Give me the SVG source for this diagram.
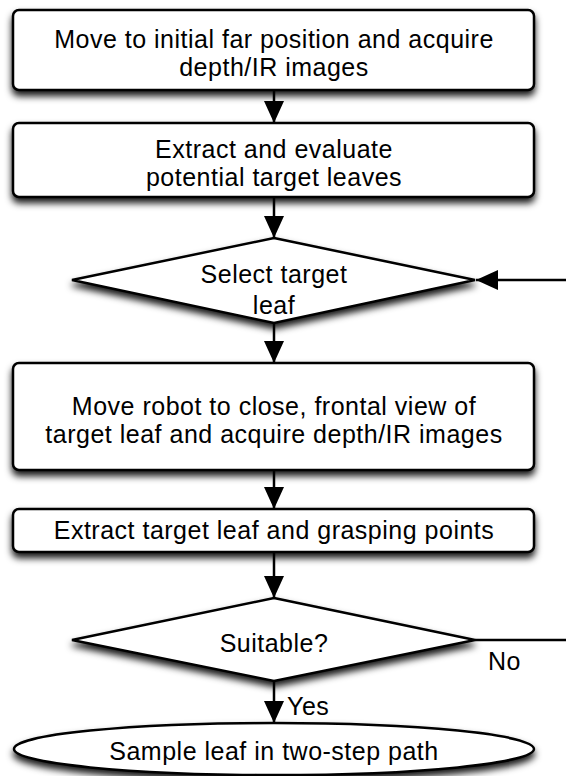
<svg xmlns="http://www.w3.org/2000/svg" width="566" height="776" viewBox="0 0 566 776">
<defs>
<filter id="sh" x="-10%" y="-20%" width="120%" height="160%">
<feDropShadow dx="0" dy="5" stdDeviation="3.5" flood-color="#000" flood-opacity="0.9"/>
</filter>
<marker id="ah" markerWidth="22" markerHeight="22" refX="22" refY="10" viewBox="0 0 22 20" orient="auto" markerUnits="userSpaceOnUse">
<path d="M0,0 L22,10 L0,20 Z" fill="#000"/>
</marker>
</defs>
<style>
.n{fill:#fff;stroke:#000;stroke-width:2.5;filter:url(#sh)}
.t{font-family:"Liberation Sans",Arial,sans-serif;font-size:25px;letter-spacing:0.5px;fill:#000;text-anchor:middle}
.l{font-family:"Liberation Sans",Arial,sans-serif;font-size:25px;letter-spacing:0.5px;fill:#000}
.c{stroke:#000;stroke-width:2.5;fill:none}
</style>
<rect width="566" height="776" fill="#fff"/>
<g id="connectors">
<line class="c" x1="274" y1="90" x2="274" y2="123" marker-end="url(#ah)"/>
<line class="c" x1="274" y1="197" x2="274" y2="238" marker-end="url(#ah)"/>
<line class="c" x1="566" y1="280" x2="476" y2="280" marker-end="url(#ah)"/>
<line class="c" x1="274" y1="323" x2="274" y2="363" marker-end="url(#ah)"/>
<line class="c" x1="274" y1="470" x2="274" y2="509" marker-end="url(#ah)"/>
<line class="c" x1="274" y1="552" x2="274" y2="598" marker-end="url(#ah)"/>
<line class="c" x1="475" y1="640" x2="566" y2="640"/>
<line class="c" x1="274" y1="681" x2="274" y2="723" marker-end="url(#ah)"/>
<text class="l" x="488" y="670">No</text>
<text class="l" x="287" y="715">Yes</text>
</g>
<g id="n1">
<rect class="n" x="13" y="10" width="521" height="80" rx="6"/>
<text class="t" x="274" y="48">Move to initial far position and acquire</text>
<text class="t" x="274" y="76">depth/IR images</text>
</g>
<g id="n2">
<rect class="n" x="13" y="123" width="521" height="74" rx="6"/>
<text class="t" x="274" y="158">Extract and evaluate</text>
<text class="t" x="274" y="186">potential target leaves</text>
</g>
<g id="n3">
<polygon class="n" points="274,238 475,280 274,323 72,280"/>
<text class="t" x="274" y="283">Select target</text>
<text class="t" x="274" y="314">leaf</text>
</g>
<g id="n4">
<rect class="n" x="13" y="363" width="521" height="107" rx="6"/>
<text class="t" x="274" y="415">Move robot to close, frontal view of</text>
<text class="t" x="274" y="443">target leaf and acquire depth/IR images</text>
</g>
<g id="n5">
<rect class="n" x="13" y="509" width="521" height="43" rx="6"/>
<text class="t" x="274" y="539">Extract target leaf and grasping points</text>
</g>
<g id="n6">
<polygon class="n" points="274,598 475,640 274,681 72,640"/>
<text class="t" x="274" y="652">Suitable?</text>
</g>
<g id="n7">
<ellipse class="n" cx="274" cy="749" rx="260" ry="26"/>
<text class="t" x="274" y="760">Sample leaf in two-step path</text>
</g>
</svg>
